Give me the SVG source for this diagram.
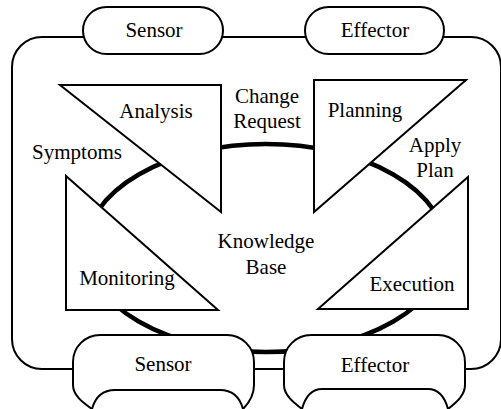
<svg xmlns="http://www.w3.org/2000/svg" width="501" height="409" viewBox="0 0 501 409">
<rect width="501" height="409" fill="#fff"/>
<g id="connectors">
<rect x="12" y="37" width="489" height="332" rx="30" ry="30" fill="none" stroke="#000" stroke-width="2"/>
</g>
<g id="knowledge-base">
<ellipse cx="266" cy="248" rx="180" ry="104" fill="none" stroke="#000" stroke-width="4.5"/>
<text x="266" y="248" font-family="Liberation Serif" font-size="21" text-anchor="middle">Knowledge</text>
<text x="266" y="274" font-family="Liberation Serif" font-size="21" text-anchor="middle">Base</text>
</g>
<g id="analysis">
<polygon points="60,85 221,85 221,212" fill="#fff" stroke="#000" stroke-width="2"/>
<text x="156" y="118" font-family="Liberation Serif" font-size="21" text-anchor="middle">Analysis</text>
</g>
<g id="planning">
<polygon points="314,80 466,80 314,212" fill="#fff" stroke="#000" stroke-width="2"/>
<text x="365" y="117" font-family="Liberation Serif" font-size="21" text-anchor="middle">Planning</text>
</g>
<g id="monitoring">
<polygon points="66,176 66,310 218,310" fill="#fff" stroke="#000" stroke-width="2"/>
<text x="127" y="285" font-family="Liberation Serif" font-size="21" text-anchor="middle">Monitoring</text>
</g>
<g id="execution">
<polygon points="468,177 468,309 318,309" fill="#fff" stroke="#000" stroke-width="2"/>
<text x="412" y="291" font-family="Liberation Serif" font-size="21" text-anchor="middle">Execution</text>
</g>
<g id="sensor-top">
<rect x="83" y="7" width="140" height="47" rx="23.5" ry="23.5" fill="#fff" stroke="#000" stroke-width="2"/>
<text x="154" y="37" font-family="Liberation Serif" font-size="21" text-anchor="middle">Sensor</text>
</g>
<g id="effector-top">
<rect x="305" y="7" width="139" height="47" rx="23.5" ry="23.5" fill="#fff" stroke="#000" stroke-width="2"/>
<text x="375" y="37" font-family="Liberation Serif" font-size="21" text-anchor="middle">Effector</text>
</g>
<g id="sensor-bottom">
<path d="M92,409 C82,402 73,395 73,385 L73,362 A27,27 0 0 1 100,335 L227,335 A27,27 0 0 1 254,362 L254,385 C254,395 250,402 243,409 C240,398 233,390 220,390 L115,390 C102,390 95,398 92,409 Z" fill="#fff" stroke="#000" stroke-width="2"/>
<text x="163" y="371" font-family="Liberation Serif" font-size="21" text-anchor="middle">Sensor</text>
</g>
<g id="effector-bottom">
<path d="M302,409 C293,402 284,395 284,385 L284,362 A27,27 0 0 1 311,335 L438,335 A27,27 0 0 1 465,362 L465,385 C465,395 457,402 448,409 C445,398 440,389 428,389 L322,389 C310,389 305,398 302,409 Z" fill="#fff" stroke="#000" stroke-width="2"/>
<text x="375" y="372" font-family="Liberation Serif" font-size="21" text-anchor="middle">Effector</text>
</g>
<g id="labels">
<text x="77" y="159" font-family="Liberation Serif" font-size="21" text-anchor="middle">Symptoms</text>
<text x="267" y="103" font-family="Liberation Serif" font-size="21" text-anchor="middle">Change</text>
<text x="267" y="128" font-family="Liberation Serif" font-size="21" text-anchor="middle">Request</text>
<text x="435" y="152" font-family="Liberation Serif" font-size="21" text-anchor="middle">Apply</text>
<text x="435" y="177" font-family="Liberation Serif" font-size="21" text-anchor="middle">Plan</text>
</g>
</svg>
